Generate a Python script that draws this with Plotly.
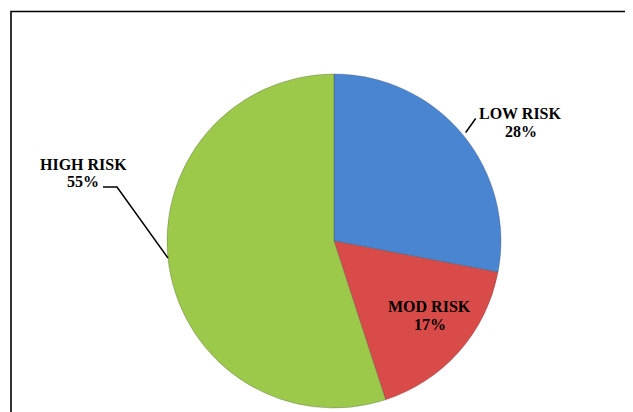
import math
import plotly.graph_objects as go

categories = ["LOW RISK", "MOD RISK", "HIGH RISK"]
values = [28, 17, 55]
colors = ["#4A85D2", "#D94B48", "#9DC94B"]

OFF = 8  # page body margin
W, H = 633 - OFF, 412 - OFF
cx, cy, r = 334, 241, 167  # pie placement in page pixels

def px(x):
    return (x - OFF) / W

def py(y):
    return 1 - (y - OFF) / H

fig = go.Figure(go.Pie(
    labels=categories,
    values=values,
    sort=False,
    direction="clockwise",
    rotation=0,
    marker=dict(colors=colors, line=dict(color="rgba(60,60,60,0.35)", width=0.8)),
    textinfo="none",
    hoverinfo="label+percent",
    showlegend=False,
    domain=dict(x=[px(cx - r), px(cx + r)], y=[py(cy + r), py(cy - r)]),
))

font = dict(family="Liberation Serif, Times New Roman, serif", size=16, color="#000000")
total = sum(values)
cum = 0
shapes = [dict(type="rect", xref="paper", yref="paper",
               x0=px(11), x1=1.05, y0=-0.03, y1=py(11.5),
               line=dict(color="#000000", width=1.6), fillcolor="rgba(0,0,0,0)")]
annotations = []

def label(x, y, name, pct):
    for txt, dy in ((name, -9), (pct, 9)):
        annotations.append(dict(x=px(x), y=py(y + dy), xref="paper", yref="paper",
                                text=f"<b>{txt}</b>", showarrow=False, font=font,
                                xanchor="center", yanchor="middle"))

for cat, v in zip(categories, values):
    mid = (cum + v / 2) / total * 2 * math.pi
    cum += v
    pct = f"{round(v / total * 100)}%"
    ex, ey = cx + r * math.sin(mid), cy - r * math.cos(mid)
    if cat == "MOD RISK":
        label(cx + 0.63 * r * math.sin(mid) + 17, cy - 0.63 * r * math.cos(mid) + 5, cat, pct)
    elif cat == "LOW RISK":
        ox, oy = ex + 13, ey - 16
        shapes.append(dict(type="line", xref="paper", yref="paper",
                           x0=px(ex + 3), y0=py(ey - 2), x1=px(ox), y1=py(oy),
                           line=dict(color="#000000", width=1.5)))
        label(ox + 45, oy + 4, cat, pct)
    else:
        kx, ky = 117, 187
        shapes.append(dict(type="path", xref="paper", yref="paper",
                           path=f"M {px(ex - 1)} {py(ey - 9)} L {px(kx)} {py(ky)} L {px(103)} {py(ky)}",
                           line=dict(color="#000000", width=1.5)))
        label(83, 173, cat, pct)

fig.update_layout(
    width=W, height=H,
    margin=dict(l=0, r=0, t=0, b=0),
    paper_bgcolor="#FFFFFF",
    plot_bgcolor="#FFFFFF",
    shapes=shapes,
    annotations=annotations,
)

fig.write_html("out.html")
